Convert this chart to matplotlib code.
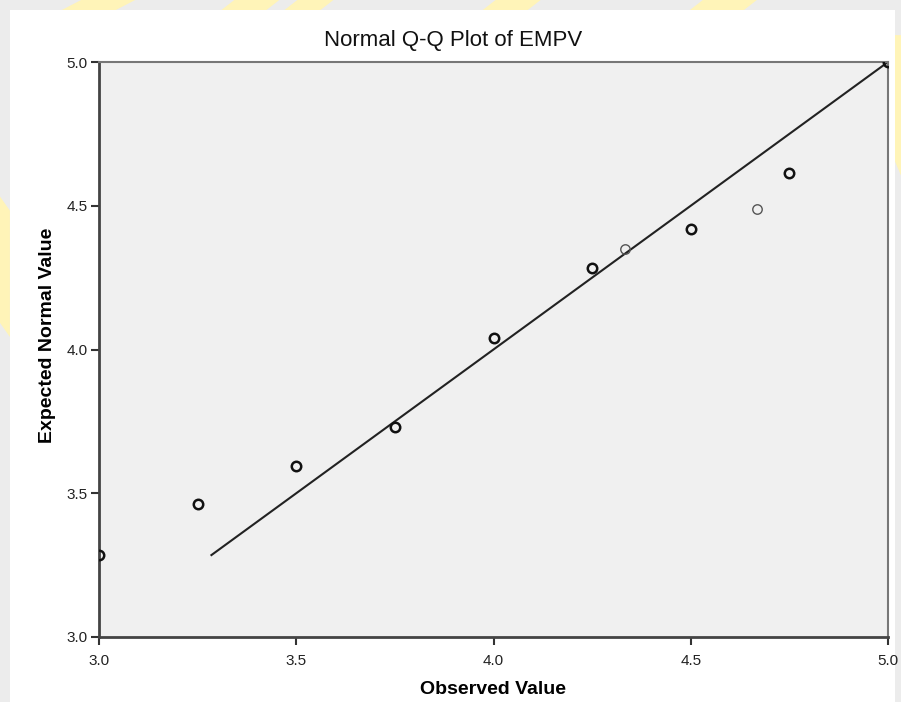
import matplotlib.pyplot as plt
from matplotlib.patches import Rectangle, Polygon

plt.rcParams["font.family"] = ["Liberation Sans", "DejaVu Sans"]

# Q-Q data
observed = [3.0, 3.25, 3.5, 3.75, 4.0, 4.25, 4.333, 4.5, 4.667, 4.75, 5.0]
expected = [3.285, 3.462, 3.596, 3.729, 4.039, 4.282, 4.349, 4.420, 4.488, 4.613, 5.0]
light_points = [4.333, 4.667]  # drawn with a thinner outline

ticks = [3.0, 3.5, 4.0, 4.5, 5.0]
tick_labels = ["3.0", "3.5", "4.0", "4.5", "5.0"]

fig = plt.figure(figsize=(9.01, 7.02), dpi=100)
fig.patch.set_facecolor("#ececec")

# faint watermark bands around the edge, then the white chart area
bands = [
    [(0.09, 1.0), (0.15, 1.0), (0.12, 0.98), (0.06, 0.98)],
    [(0.26, 1.0), (0.31, 1.0), (0.29, 0.98), (0.24, 0.98)],
    [(0.33, 1.0), (0.37, 1.0), (0.35, 0.98), (0.31, 0.98)],
    [(0.55, 1.0), (0.60, 1.0), (0.58, 0.98), (0.53, 0.98)],
    [(0.78, 1.0), (0.84, 1.0), (0.82, 0.98), (0.76, 0.98)],
    [(0.0, 0.72), (0.011, 0.70), (0.011, 0.52), (0.0, 0.54)],
    [(0.99, 0.95), (1.0, 0.95), (1.0, 0.75), (0.99, 0.78)],
]
for b in bands:
    fig.patches.append(Polygon(b, closed=True, transform=fig.transFigure,
                               facecolor="#fff4b8", edgecolor="none", zorder=-3))
fig.patches.append(Rectangle((10 / 901, 0), 885 / 901, 692 / 702, transform=fig.transFigure,
                             facecolor="white", edgecolor="none", zorder=-2))

ax = fig.add_axes([99 / 901, 65 / 702, 789 / 901, 575 / 702])
ax.set_facecolor("#f0f0f0")

# reference line y = x from the smallest expected value
lo = min(expected)
ax.plot([lo, 5.0], [lo, 5.0], color="#222222", lw=1.5, zorder=2)

for x, y in zip(observed, expected):
    light = x in light_points
    ax.plot(x, y, "o", ms=6.8, mfc="none",
            mec="#555555" if light else "#111111",
            mew=1.0 if light else 1.8, zorder=3)

ax.set_xlim(3.0, 5.0)
ax.set_ylim(3.0, 5.0)
ax.set_xticks(ticks)
ax.set_xticklabels(tick_labels)
ax.set_yticks(ticks)
ax.set_yticklabels(tick_labels)
ax.tick_params(direction="out", length=6, width=1.5, color="#333333",
               labelsize=11, labelcolor="#222222", pad=2)
ax.tick_params(axis="x", pad=6)
ax.tick_params(top=False, right=False)

for side in ["left", "bottom"]:
    ax.spines[side].set_color("#444444")
    ax.spines[side].set_linewidth(2)
for side in ["top", "right"]:
    ax.spines[side].set_color("#777777")
    ax.spines[side].set_linewidth(1.5)

fig.text(0.503, 0.943, "Normal Q-Q Plot of EMPV", fontsize=16, color="#111111",
         ha="center", va="center")
ax.set_xlabel("Observed Value", fontsize=14, fontweight="bold")
ax.xaxis.set_label_coords(0.5, -0.076)
ax.set_ylabel("Expected Normal Value", fontsize=14, fontweight="bold")
ax.yaxis.set_label_coords(-0.054, 0.525)

plt.savefig("out.png", dpi=100, facecolor=fig.get_facecolor())
